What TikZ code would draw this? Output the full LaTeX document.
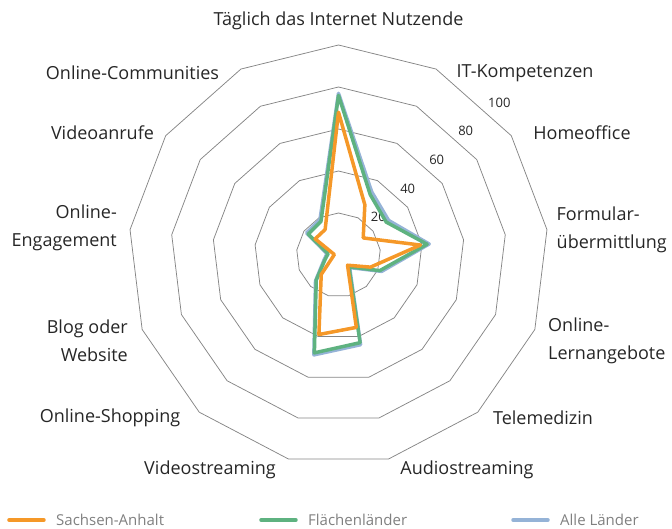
\documentclass[tikz,border=0pt]{standalone}
\usepackage{fontspec}
\setmainfont{Open Sans}
\usetikzlibrary{positioning}
\definecolor{saorange}{RGB}{245,152,40}
\definecolor{flgreen}{RGB}{94,178,128}
\definecolor{alblue}{RGB}{149,179,215}
\definecolor{gridgray}{RGB}{134,134,134}
\definecolor{labeltext}{RGB}{38,38,38}
\definecolor{legendtext}{RGB}{128,128,128}
\tikzstyle{ring} = [draw=gridgray, line width=0.75pt, line join=round]
\tikzstyle{axislabel} = [text=labeltext, font=\fontsize{18}{28}\selectfont, inner sep=0pt]
\tikzstyle{ticklabel} = [text=labeltext, font=\fontsize{13}{15}\selectfont, inner sep=0pt]
\tikzstyle{legendlabel} = [text=legendtext, font=\fontsize{15}{17}\selectfont, inner sep=0pt, anchor=west]
\tikzstyle{series} = [line width=3.5pt, line join=round]
\tikzstyle{legendline} = [line width=3.5pt, line cap=round]
% one radar line: style, 13 values
\newcommand\radarline[3]{%
  \foreach \v [count=\i from 0] in {#3}
    \coordinate (#1-\i) at (90-\i*360/13:\v*2.1);
  \draw[series,#2] (#1-0) \foreach \i in {1,...,12} {-- (#1-\i)} -- cycle;}

\begin{document}
\begin{tikzpicture}[x=1pt,y=1pt]
  \useasboundingbox (-338.5,-273) rectangle (333.5,255);

  % rings 20..100
  \foreach \r in {1,...,5}
    \draw[ring] (90:\r*42) \foreach \i in {1,...,12} {-- (90-\i*360/13:\r*42)} -- cycle;

  % scale
  \node[ticklabel] (t20)  at (39.8,38.3)   {20};
  \node[ticklabel] (t40)  at (69.2,65.7)   {40};
  \node[ticklabel] (t60)  at (98.2,95)     {60};
  \node[ticklabel] (t80)  at (127.2,124)   {80};
  \node[ticklabel] (t100) at (160.8,152.3) {100};

  % data
  \radarline{al}{alblue}{77,34,29,43.5,22,8,44,49,16.5,7.5,5.5,18.5,19}
  \radarline{fl}{flgreen}{76,32.5,27.6,42.5,21,7.5,43,48,16,7,5,17.5,18}
  \radarline{sa}{saorange}{68,27,14.3,39.3,16.3,6.5,35.5,39,12.4,3,2,13.5,13.7}

  % axis labels
  \node[axislabel] (taeglich) at (0,234)       {Täglich das Internet Nutzende};
  \node[axislabel] (itkomp)   at (186.5,182)   {IT-Kompetenzen};
  \node[axislabel] (homeoff)  at (243.5,122)   {Homeoffice};
  \node[axislabel, anchor=west, align=left] (formular) at (218,25)
       {Formular-\\übermittlung};
  \node[axislabel, anchor=west, align=left] (lernen) at (209.5,-86)
       {Online-\\Lernangebote};
  \node[axislabel] (telemed)  at (204.5,-163)  {Telemedizin};
  \node[axislabel] (audio)    at (128.5,-215)  {Audiostreaming};
  \node[axislabel] (video)    at (-128.5,-215) {Videostreaming};
  \node[axislabel] (shopping) at (-228.5,-163) {Online-Shopping};
  \node[axislabel, anchor=east, align=right] (blog) at (-210.5,-86)
       {Blog oder\\Website};
  \node[axislabel, anchor=east, align=right] (engage) at (-221.5,27)
       {Online-\\Engagement};
  \node[axislabel] (videoanr) at (-236,122)    {Videoanrufe};
  \node[axislabel] (communit) at (-206,182)    {Online-Communities};

  % legend
  \coordinate (lsa-a) at (-329.5,-265); \coordinate (lsa-b) at (-294.5,-265);
  \coordinate (lfl-a) at (-77.5,-265);  \coordinate (lfl-b) at (-42.5,-265);
  \coordinate (lal-a) at (174.5,-265);  \coordinate (lal-b) at (209.5,-265);
  \draw[legendline, saorange] (lsa-a) -- (lsa-b);
  \draw[legendline, flgreen]  (lfl-a) -- (lfl-b);
  \draw[legendline, alblue]   (lal-a) -- (lal-b);
  \node[legendlabel, right=12pt of lsa-b] (lsa) {Sachsen-Anhalt};
  \node[legendlabel, right=12pt of lfl-b] (lfl) {Flächenländer};
  \node[legendlabel, right=12pt of lal-b] (lal) {Alle Länder};
\end{tikzpicture}
\end{document}
